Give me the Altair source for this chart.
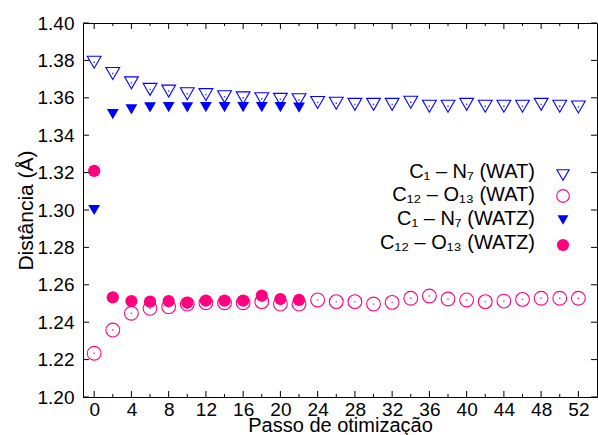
import altair as alt
import pandas as pd

# ---- data ----
steps_wat = list(range(0, 53, 2))
cn_wat = [1.3790, 1.3730, 1.3680, 1.3645, 1.3636, 1.3622, 1.3617, 1.3606, 1.3600,
          1.3595, 1.3592, 1.3590, 1.3575, 1.3571, 1.3565, 1.3565, 1.3565, 1.3576,
          1.3555, 1.3555, 1.3565, 1.3555, 1.3555, 1.3555, 1.3565, 1.3555, 1.3551]
co_wat = [1.2234, 1.2358, 1.2448, 1.2474, 1.2483, 1.2497, 1.2504, 1.2504, 1.2504,
          1.2510, 1.2497, 1.2497, 1.2519, 1.2510, 1.2510, 1.2497, 1.2506, 1.2528,
          1.2540, 1.2524, 1.2519, 1.2510, 1.2513, 1.2522, 1.2528, 1.2528, 1.2528]
steps_watz = list(range(0, 23, 2))
cn_watz = [1.3000, 1.3513, 1.3538, 1.3549, 1.3550, 1.3549, 1.3550, 1.3550, 1.3550,
           1.3550, 1.3550, 1.3548]
co_watz = [1.3209, 1.2533, 1.2513, 1.2510, 1.2513, 1.2504, 1.2515, 1.2515, 1.2515,
           1.2542, 1.2524, 1.2519]

labels = ["C\u2081 \u2013 N\u2087 (WAT)", "C\u2081\u2082 \u2013 O\u2081\u2083 (WAT)",
          "C\u2081 \u2013 N\u2087 (WATZ)", "C\u2081\u2082 \u2013 O\u2081\u2083 (WATZ)"]
x_major = list(range(0, 53, 4))
x_minor = list(range(2, 53, 4))
y_ticks = [1.20, 1.22, 1.24, 1.26, 1.28, 1.30, 1.32, 1.34, 1.36, 1.38, 1.40]

BLUE = "#0000ff"
PINK = "#ff0080"
FONT = "Liberation Sans"
W, H = 514, 374

xscale = alt.Scale(domain=[-1.2, 54], nice=False, zero=False)
yscale = alt.Scale(domain=[1.20, 1.40], nice=False, zero=False)
xaxis = alt.Axis(values=x_major, title="Passo de otimização", labelPadding=3,
                 titleFontSize=20, titleFont=FONT, titleFontWeight="normal",
                 titleY=34, titleBaseline="alphabetic")
yaxis = alt.Axis(values=y_ticks, format=".2f", title="Distância (Å)", labelPadding=9,
                 titleFontSize=21, titleFont=FONT, titleFontWeight="normal",
                 titleX=-57, titleY=H / 2, titleBaseline="middle", titleAlign="center",
                 titleAngle=270)


def series(steps, vals):
    return pd.DataFrame({"step": steps, "v": vals})


def pts(df, shape, color, filled, size):
    return alt.Chart(df).mark_point(
        shape=shape, filled=filled, size=size, color=color,
        strokeWidth=1.1, opacity=1
    ).encode(
        x=alt.X("step:Q", scale=xscale, axis=xaxis),
        y=alt.Y("v:Q", scale=yscale, axis=yaxis),
    )


def dots(df, color):
    return alt.Chart(df).mark_point(
        shape="square", filled=True, size=2, color=color, opacity=0.8
    ).encode(
        x=alt.X("step:Q", scale=xscale, axis=xaxis),
        y=alt.Y("v:Q", scale=yscale, axis=yaxis),
    )


d_cn_wat = series(steps_wat, cn_wat)
d_co_wat = series(steps_wat, co_wat)
d_cn_watz = series(steps_watz, cn_watz)
d_co_watz = series(steps_watz, co_watz)

layers = [
    pts(d_co_wat, "circle", PINK, False, 190),
    dots(d_co_wat, PINK),
    pts(d_cn_wat, "triangle-down", BLUE, False, 190),
    dots(d_cn_wat, BLUE),
    pts(d_cn_watz, "triangle-down", BLUE, True, 140),
    pts(d_co_watz, "circle", PINK, True, 150),
]

# ---- inward ticks on all four sides ----
xt_major = pd.DataFrame({"step": x_major})
xt_minor = pd.DataFrame({"step": x_minor})
yt = pd.DataFrame({"v": y_ticks})


def xticks(df, y0, y1):
    return alt.Chart(df).mark_rule(color="black", strokeWidth=1).encode(
        x=alt.X("step:Q", scale=xscale, axis=xaxis), y=alt.value(y0), y2=alt.value(y1))


def yticks(x0, x1):
    return alt.Chart(yt).mark_rule(color="black", strokeWidth=1).encode(
        y=alt.Y("v:Q", scale=yscale, axis=yaxis), x=alt.value(x0), x2=alt.value(x1))


layers += [
    xticks(xt_major, H, H - 6), xticks(xt_minor, H, H - 3),
    xticks(xt_major, 0, 6), xticks(xt_minor, 0, 3),
    yticks(0, 6), yticks(W, W - 6),
]

# ---- legend (text left of symbols) ----
leg_df = pd.DataFrame({"label": labels})
row_y = [149, 172, 196, 220]
sym_y = [152, 173, 197, 222]
sym_style = [("triangle-down", BLUE, False, 150), ("circle", PINK, False, 160),
             ("triangle-down", BLUE, True, 120), ("circle", PINK, True, 150)]
for i in range(4):
    layers.append(
        alt.Chart(leg_df.iloc[[i]]).mark_text(
            align="right", baseline="middle", font=FONT, fontSize=20, color="black"
        ).encode(text="label:N", x=alt.value(452), y=alt.value(row_y[i]))
    )
    shp, col, fil, sz = sym_style[i]
    layers.append(
        alt.Chart(leg_df.iloc[[i]]).mark_point(
            shape=shp, color=col, filled=fil, size=sz, strokeWidth=1.1, opacity=1
        ).encode(x=alt.value(480), y=alt.value(sym_y[i]))
    )

chart = alt.layer(*layers).properties(
    width=W, height=H,
    autosize=alt.AutoSizeParams(type="none"),
    padding={"left": 83, "top": 23, "right": 1, "bottom": 38},
).configure_view(
    stroke="black", strokeWidth=1
).configure_axis(
    domain=False, ticks=False, grid=False, labelFont=FONT, labelFontSize=19,
    labelColor="black", titleColor="black"
)

chart.save("out.html", embed_options={"renderer": "svg", "actions": False})
